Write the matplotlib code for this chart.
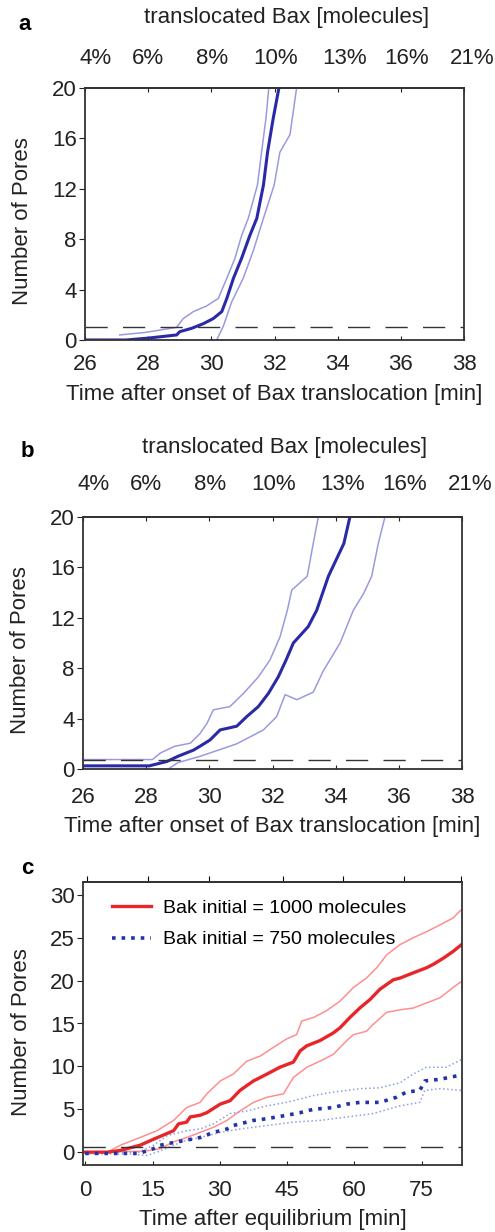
import numpy as np
import matplotlib
matplotlib.use("Agg")
import matplotlib.pyplot as plt
import matplotlib.transforms as mtransforms

plt.rcParams['font.family'] = ['Liberation Sans', 'DejaVu Sans']

# panel a (time in min, number of pores)
a_t_mean = [26, 27.3, 28.0, 28.9, 29.0, 29.38, 29.75, 30.06, 30.33, 30.49, 30.7, 30.96, 31.22,
            31.44, 31.65, 31.78, 31.96, 32.14]
a_mean = [0, 0, 0.15, 0.4, 0.66, 0.93, 1.3, 1.7, 2.25, 3.3, 4.9, 6.5, 8.3,
          9.66, 12.3, 14.9, 17.6, 20]
a_t_up = [27.1, 27.9, 28.9, 29.11, 29.43, 29.85, 30.22, 30.49, 30.75, 30.96, 31.17, 31.46,
          31.59, 31.73, 31.82]
a_up = [0.4, 0.6, 1.0, 1.7, 2.25, 2.7, 3.3, 4.9, 6.5, 8.3, 9.66, 12.3,
        14.9, 17.6, 20]
a_t_lo = [30.17, 30.38, 30.64, 31.01, 31.33, 31.65, 31.99, 32.17, 32.49, 32.7]
a_lo = [0, 1.1, 3.0, 4.9, 7.1, 9.66, 12.3, 14.9, 16.3, 20]

# panel b
b_t_mean = [26, 28.1, 28.66, 29.0, 29.5, 29.7, 30.02, 30.34, 30.87, 31.18, 31.55, 31.87, 32.18,
            32.43, 32.66, 33.13, 33.4, 33.77, 34.26, 34.45]
b_mean = [0.25, 0.25, 0.6, 1.0, 1.5, 1.8, 2.3, 3.1, 3.4, 4.15, 4.95, 6.0, 7.3,
          8.65, 10.0, 11.3, 12.6, 15.3, 17.9, 20]
b_t_up = [26, 28.2, 28.45, 28.9, 29.4, 29.7, 29.92, 30.13, 30.65, 31.08, 31.55, 31.92, 32.24,
          32.47, 32.61, 33.1, 33.29, 33.45]
b_up = [0.75, 0.75, 1.27, 1.8, 2.05, 2.8, 3.6, 4.7, 4.95, 6.0, 7.3, 8.65, 10.5,
        12.6, 14.2, 15.3, 17.9, 20]
b_t_lo = [28.7, 29.0, 29.7, 30.87, 31.71, 32.13, 32.4, 32.77, 33.29, 33.61, 34.14, 34.56, 34.88,
          35.14, 35.35, 35.56]
b_lo = [0, 0.5, 1.0, 2.0, 3.1, 4.15, 5.9, 5.5, 6.1, 7.8, 10.0, 12.6, 13.9,
        15.3, 17.9, 20]

top_ticks = [26, 28, 30, 32, 34, 36, 38]
top_labels = ['4%', '6%', '8%', '10%', '13%', '16%', '21%']

# panel c
c_t_red = [0, 5, 7.8, 12.2, 15.2, 19.7, 20.8, 22.6, 23.4, 25.6, 27.1, 30.1, 32.3, 34.5, 37.5, 40.5,
           43.4, 46.4, 47.9, 49.4, 52.3, 55.3, 56.8, 59.0, 61.2, 63.5, 65.7, 68.7, 70.2, 73.1,
           76.1, 77.6, 79.8, 82.0, 83.9]
c_red = [0, 0, 0.2, 0.8, 1.5, 2.5, 3.3, 3.5, 4.1, 4.3, 4.6, 5.6, 6.0, 7.2, 8.3, 9.1,
         9.9, 10.5, 11.8, 12.4, 13.0, 13.9, 14.5, 15.7, 16.8, 17.8, 19.0, 20.1, 20.3, 20.9,
         21.5, 21.9, 22.6, 23.4, 24.2]
c_t_red_up = [0, 5, 7.8, 12.2, 16.0, 19.7, 22.6, 25.6, 27.1, 30.1, 33.0, 36.0, 39.0, 41.9, 44.9,
              47.1, 48.3, 50.9, 53.8, 56.8, 59.8, 62.7, 65.0, 67.2, 70.2, 73.1, 76.1, 79.1, 82.0, 83.9]
c_red_up = [0, 0, 0.8, 1.7, 2.5, 3.7, 5.2, 5.8, 6.8, 8.3, 9.1, 10.6, 11.2, 12.2, 13.2,
            13.7, 15.3, 15.7, 16.5, 17.6, 19.2, 20.3, 21.5, 23.0, 24.2, 25.0, 25.7, 26.5, 27.3, 28.3]
c_t_red_lo = [0, 13.0, 16.7, 19.7, 22.6, 25.6, 28.6, 31.6, 34.5, 37.5, 40.5, 44.2, 46.4, 49.4, 52.3,
              55.3, 58.3, 59.8, 62.7, 64.2, 67.2, 70.2, 73.1, 76.1, 79.1, 82.0, 83.9]
c_red_lo = [0, 0.1, 0.4, 1.2, 1.7, 2.3, 2.9, 3.7, 4.8, 5.8, 6.4, 6.8, 8.7, 9.9, 10.6,
            11.4, 13.0, 13.7, 14.1, 14.9, 16.3, 16.6, 16.8, 17.4, 18.0, 19.2, 19.9]
c_t_blue = [0, 12.0, 15.2, 16.7, 20.4, 22.6, 25.6, 28.6, 31.6, 33.0, 37.5, 40.5, 44.9, 47.9, 50.9,
            55.3, 58.3, 61.2, 65.7, 69.4, 71.6, 74.6, 75.7, 79.1, 83.9]
c_blue = [-0.15, -0.15, 0.4, 0.8, 1.2, 1.4, 1.7, 2.3, 2.7, 3.1, 3.7, 3.9, 4.3, 4.6, 5.0,
          5.2, 5.6, 5.8, 5.8, 6.4, 7.0, 7.2, 8.3, 8.5, 9.0]
c_t_blue_up = [0, 12.0, 15.2, 18.2, 22.6, 25.6, 28.6, 32.3, 36.0, 40.5, 44.9, 50.9, 55.3, 61.2,
               65.7, 70.2, 73.1, 76.1, 80.5, 83.9]
c_blue_up = [0, 0, 0.8, 1.9, 2.5, 2.7, 3.3, 4.5, 4.8, 5.4, 5.8, 6.6, 7.0, 7.4,
             7.5, 8.1, 9.1, 9.9, 9.9, 10.8]
c_t_blue_lo = [0, 10.0, 13.7, 16.0, 19.7, 22.6, 25.6, 30.1, 34.5, 40.5, 46.4, 52.3, 58.3, 64.2,
               70.2, 74.6, 75.7, 79.1, 83.9]
c_blue_lo = [-0.2, -0.2, -0.4, 0, 0.8, 1.4, 1.7, 2.3, 2.7, 3.1, 3.5, 3.7, 4.1, 4.5,
             5.4, 5.8, 7.2, 7.4, 7.2]
c_top_ticks = [0.4, 14.1, 27.5, 44.0, 57.5, 71.0, 83.7]

threshold = {'a': 1.0, 'b': 0.75, 'c': 0.6}

W, H = 495, 1232
FS = 16
fig = plt.figure(figsize=(W / 100, H / 100), dpi=100)

def px_axes(left, top, right, bottom):
    return fig.add_axes([left / W, 1 - bottom / H, (right - left) / W, (bottom - top) / H])

spine_c = '#333333'
text_c = '#222222'
dark_blue = '#2a2aa6'
light_blue = '#9a9ae0'
# the percent labels sit a bit right of their ticks in the original
top_shift_px = [11, 0, 1, 1, 7, 6, 8]

def style(ax, tick_pad):
    for s in ax.spines.values():
        s.set_color(spine_c)
        s.set_linewidth(1.3)
    ax.tick_params(axis='x', direction='in', length=3, pad=tick_pad, labelsize=FS, colors=text_c)
    ax.tick_params(axis='y', direction='out', length=4, pad=2, labelsize=FS, colors=text_c)

def bax_panel(ax, letter, t_mean, mean, t_up, up, t_lo, lo, tick_pad, top_pad, xlab_y, title_y):
    ax.plot(t_up, up, color=light_blue, lw=1.1)
    ax.plot(t_lo, lo, color=light_blue, lw=1.1)
    ax.plot(t_mean, mean, color=dark_blue, lw=2.2)
    ax.axhline(threshold[letter], color='#333333', lw=1.0, dashes=(16, 11))
    ax.set_xlim(26, 38)
    ax.set_ylim(0, 20)
    ax.set_xticks([26, 28, 30, 32, 34, 36, 38])
    ax.set_yticks([0, 4, 8, 12, 16, 20])
    style(ax, tick_pad)
    sec = ax.secondary_xaxis('top')
    sec.set_xticks(top_ticks, top_labels)
    sec.tick_params(direction='in', length=3, pad=top_pad, labelsize=FS, colors=text_c)
    sec.spines['top'].set_linewidth(1.3)
    sec.spines['top'].set_color(spine_c)
    for lab, dx in zip(sec.xaxis.get_majorticklabels(), top_shift_px):
        lab.set_transform(lab.get_transform() +
                          mtransforms.ScaledTranslation(dx / 100, 0, fig.dpi_scale_trans))
    ax.set_xlabel('Time after onset of Bax translocation [min]', fontsize=FS, color=text_c)
    ax.xaxis.set_label_coords(0.5, xlab_y)
    ax.xaxis.label.set_va('center')
    ax.set_ylabel('Number of Pores', fontsize=FS, color=text_c)
    ax.yaxis.set_label_coords(-0.166, 0.47)
    ax.yaxis.label.set_va('center')
    ax.text(0.533, title_y, 'translocated Bax [molecules]', transform=ax.transAxes,
            ha='center', va='center', fontsize=FS, color=text_c)

ax_a = px_axes(85, 88, 464, 340)
bax_panel(ax_a, 'a', a_t_mean, a_mean, a_t_up, a_up, a_t_lo, a_lo, 10, 14, -0.218, 1.278)
fig.text(25 / W, 1 - 24 / H, 'a', fontsize=FS, fontweight='bold', ha='center', va='center')

ax_b = px_axes(83, 517, 462, 769)
bax_panel(ax_b, 'b', b_t_mean, b_mean, b_t_up, b_up, b_t_lo, b_lo, 13, 16, -0.23, 1.274)
fig.text(27 / W, 1 - 452 / H, 'b', fontsize=FS, fontweight='bold', ha='center', va='center')

# panel c
red = '#e8262a'
light_red = '#ff8f8f'
blue = '#2233aa'
light_blue2 = '#8f9fe6'
ax_c = px_axes(83, 882, 462, 1165)
ax_c.plot(c_t_red_up, c_red_up, color=light_red, lw=1.1)
ax_c.plot(c_t_red_lo, c_red_lo, color=light_red, lw=1.1)
ax_c.plot(c_t_blue_up, c_blue_up, color=light_blue2, lw=1.1, ls=':')
ax_c.plot(c_t_blue_lo, c_blue_lo, color=light_blue2, lw=1.1, ls=':')
ax_c.plot(c_t_red, c_red, color=red, lw=2.4, label='Bak initial = 1000 molecules')
ax_c.plot(c_t_blue, c_blue, color=blue, lw=2.6, ls=':', label='Bak initial = 750 molecules')
ax_c.axhline(threshold['c'], color='#333333', lw=1.0, dashes=(16, 11))
ax_c.set_xlim(-0.5, 84)
ax_c.set_ylim(-1.5, 31.5)
ax_c.set_xticks([0, 15, 30, 45, 60, 75])
ax_c.set_yticks([0, 5, 10, 15, 20, 25, 30])
style(ax_c, 11)
sec_c = ax_c.secondary_xaxis('top')
sec_c.set_xticks(c_top_ticks, [])
sec_c.tick_params(direction='out', length=4)
sec_c.spines['top'].set_linewidth(1.3)
sec_c.spines['top'].set_color(spine_c)
ax_c.set_xlabel('Time after equilibrium [min]', fontsize=FS, color=text_c)
ax_c.xaxis.set_label_coords(0.5, -0.194)
ax_c.xaxis.label.set_va('center')
ax_c.set_ylabel('Number of Pores', fontsize=FS, color=text_c)
ax_c.yaxis.set_label_coords(-0.162, 0.47)
ax_c.yaxis.label.set_va('center')
ax_c.legend(loc='upper left', bbox_to_anchor=(0.03, 1.0), frameon=False, fontsize=14,
            handlelength=2.0, handletextpad=0.65, labelspacing=0.7)
fig.text(27 / W, 1 - 868 / H, 'c', fontsize=FS, fontweight='bold', ha='center', va='center')

fig.savefig('out.png', dpi=100)
